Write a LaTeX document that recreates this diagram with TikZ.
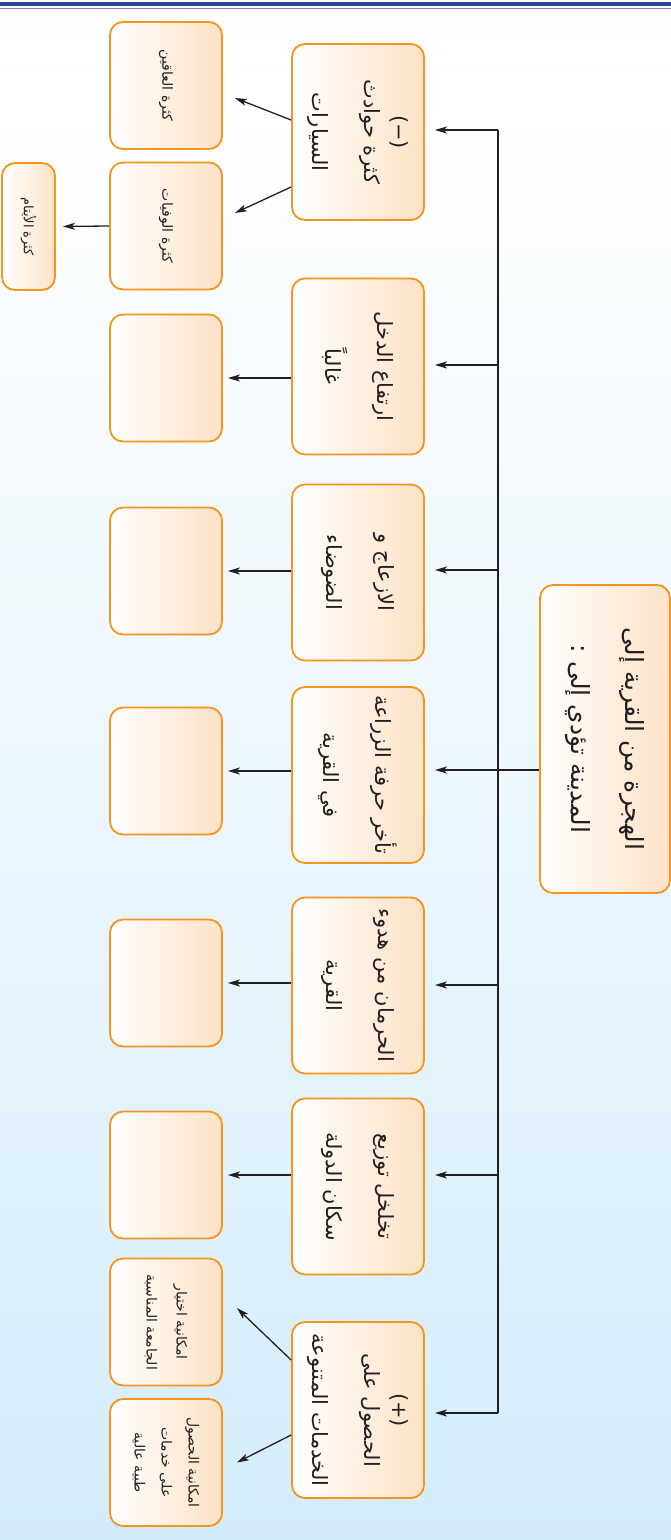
\documentclass[tikz,border=0pt]{standalone}
\usepackage{fontspec}
\usetikzlibrary{arrows.meta}
\newfontfamily\ar[Script=Arabic]{DejaVu Sans}
\TeXXeTstate=1
\newcommand\arl[1]{\beginR #1\endR}
\definecolor{bord}{HTML}{F7941D}
\definecolor{peach}{HTML}{FDE2C6}
\definecolor{hdark}{HTML}{2E4591}
\definecolor{hlight}{HTML}{7080BA}
\definecolor{bgB}{HTML}{B9E1F6}
\definecolor{bgM}{HTML}{E3F3FC}
\definecolor{bgT}{HTML}{EEF7FD}
\definecolor{ink}{HTML}{231F20}
\pgfdeclareverticalshading{bgshade}{100bp}{color(0bp)=(bgB); color(40bp)=(bgM); color(72bp)=(white); color(100bp)=(bgT)}
\begin{document}
\begin{tikzpicture}[x=1pt,y=-1pt,
  box/.style={draw=bord, line width=1.8pt, rounded corners=13pt, left color=white, right color=peach, inner sep=0pt},
  lone/.style={box, minimum width=132pt, minimum height=176pt},
  ltwo/.style={box, minimum width=112pt, minimum height=127pt},
  tone/.style={rotate=-90, align=center, text=ink, font=\ar\fontsize{21}{52}\selectfont},
  ttwo/.style={rotate=-90, align=center, text=ink, font=\ar\fontsize{14}{30}\selectfont},
  tmain/.style={rotate=-90, align=center, text=ink, font=\ar\fontsize{25}{54}\selectfont},
  arr/.style={draw=ink, line width=1.3pt, -{Stealth[length=12pt,width=7pt,inset=3pt]}},
  trunk/.style={draw=ink, line width=2.2pt}]
\useasboundingbox (0,0) rectangle (671,1540);
\shade[shading=bgshade] (0,0) rectangle (671,1540);
\fill[hdark] (0,2.3) rectangle (671,6);
\fill[hlight] (0,7.7) rectangle (671,9.3);

% main box
\node[box, minimum width=130pt, minimum height=308pt] (main) at (605,739) {};
\node[tmain] at (main) {\arl{الهجرة من القرية إلى}\\\arl{المدينة تؤدي إلى :}};

% level one
\node[lone] (b1) at (358,132) {};
\node[lone] (b2) at (358,366.5) {};
\node[lone] (b3) at (358,572.5) {};
\node[lone] (b4) at (358,775) {};
\node[lone] (b5) at (358,985.5) {};
\node[lone] (b6) at (358,1186.5) {};
\node[lone] (b7) at (358,1410) {};
\node[tone] at (b1) {(−)\\[-24pt]\arl{كثرة حوادث}\\\arl{السيارات}};
\node[tone] at (b2) {\arl{ارتفاع الدخل}\\\arl{غالباً}};
\node[tone] at (b3) {\arl{الازعاج و}\\\arl{الضوضاء}};
\node[tone] at (b4) {\arl{تأخر حرفة الزراعة}\\\arl{في القرية}};
\node[tone] at (b5) {\arl{الحرمان من هدوء}\\\arl{القرية}};
\node[tone] at (b6) {\arl{تخلخل توزيع}\\\arl{سكان الدولة}};
\node[tone] at (b7) {(+)\\[-24pt]\arl{الحصول على}\\\arl{الخدمات المتنوعة}};

% level two
\node[ltwo] (c1) at (166,85.5) {};
\node[ltwo] (c2) at (166,226) {};
\node[ltwo] (e2) at (166,378) {};
\node[ltwo] (e3) at (166,571) {};
\node[ltwo] (e4) at (166,771) {};
\node[ltwo] (e5) at (166,983) {};
\node[ltwo] (e6) at (166,1175) {};
\node[ltwo] (c7a) at (166,1322) {};
\node[ltwo] (c7b) at (166,1462.5) {};
\node[ttwo] at (c1) {\arl{كثرة العاقين}};
\node[ttwo] at (c2) {\arl{كثرة الوفيات}};
\node[ttwo] at (c7a) {\arl{امكانية اختيار}\\\arl{الجامعة المناسبة}};
\node[ttwo, font=\ar\fontsize{14}{27}\selectfont] at (c7b) {\arl{امكانية الحصول}\\\arl{على خدمات}\\\arl{طبية عالية}};

% level three
\node[box, minimum width=53pt, minimum height=127pt] (d2) at (28.5,226.5) {};
\node[ttwo, font=\ar\fontsize{13}{27}\selectfont] at (d2) {\arl{كثرة الأيتام}};

% trunk
\coordinate (t1) at (498,130);
\coordinate (t2) at (498,365);
\coordinate (t3) at (498,570);
\coordinate (t4) at (498,770);
\coordinate (t5) at (498,985);
\coordinate (t6) at (498,1175);
\coordinate (t7) at (498,1413);
\draw[trunk] (t1) -- (t7);
\draw[draw=ink, line width=1.3pt] (main.west |- t4) -- (t4);
\foreach \i in {1,...,7}{
  \draw[arr, shorten >=10pt] (t\i) -- (t\i -| b\i.east);
}
% level one to level two
\foreach \i in {2,...,6}{
  \draw[arr, shorten >=5pt] (b\i.west |- e\i.east) -- (e\i.east);
}
\draw[arr] ([yshift=12pt]b1.west) -- ([shift={(12pt,-12.5pt)}]c1.east);
\draw[arr] ([yshift=-55pt]b1.west) -- ([shift={(12pt,13pt)}]c2.east);
\draw[arr] ([yshift=50pt]b7.west) -- ([shift={(14pt,14pt)}]c7a.east);
\draw[arr] ([yshift=-25pt]b7.west) -- ([shift={(14pt,0pt)}]c7b.east);
% level two to three
\draw[arr, shorten >=7pt] (c2.west) -- (d2.east);
\end{tikzpicture}
\end{document}
